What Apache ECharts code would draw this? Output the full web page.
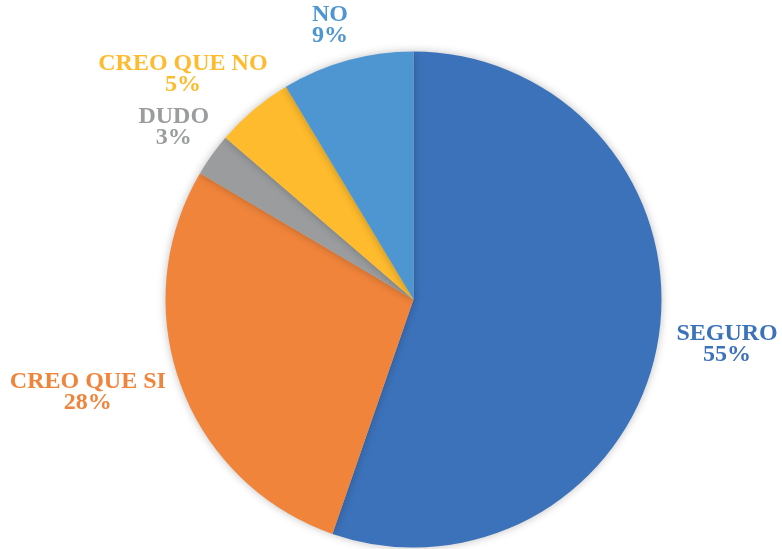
<!DOCTYPE html>
<html>
<head>
<meta charset="utf-8">
<script src="https://cdn.jsdelivr.net/npm/echarts@6/dist/echarts.min.js"></script>
<style>
html,body{margin:0;padding:0;background:#fff;}
#chart{width:782px;height:549px;}
</style>
</head>
<body>
<div id="chart"></div>
<script>
const categories = ['SEGURO', 'CREO QUE SI', 'DUDO', 'CREO QUE NO', 'NO'];
const values = [55.3, 28.2, 2.8, 5.1, 8.6];

const colors = ['#3C72BA', '#F0843B', '#9A9C9D', '#FDBB2D', '#4E96D1'];
// label distance beyond the rim and small nudges (styling only)
const labelLen = [70, 100, 47, 74, 39];
const labelNudge = [[0, -8], [1, -27], [0, 0], [-23, 21], [-7, 2]];

const chart = echarts.init(document.getElementById('chart'), null, {renderer: 'canvas'});
const option = {
  animation: false,
  backgroundColor: '#ffffff',
  series: [{
    type: 'pie',
    center: [413.5, 299.5],
    radius: [0, 248],
    startAngle: 90,
    clockwise: true,
    avoidLabelOverlap: false,
    data: categories.map((c, i) => ({
      name: c,
      value: values[i],
      itemStyle: {color: colors[i]},
      label: {color: colors[i]},
      labelLine: {length: labelLen[i]}
    })),
    itemStyle: {
      shadowBlur: 8,
      shadowColor: 'rgba(0,0,0,0.25)'
    },
    label: {
      show: true,
      position: 'outside',
      distanceToLabelLine: 0,
      fontFamily: 'Liberation Serif',
      fontWeight: 'bold',
      fontSize: 24,
      lineHeight: 21,
      formatter: p => '{n|' + p.name + '}\n{n|' + Math.round(p.percent) + '%}',
      rich: {
        n: {align: 'center', fontFamily: 'Liberation Serif', fontWeight: 'bold', fontSize: 24, lineHeight: 21}
      }
    },
    labelLine: {show: false, length2: 0},
    labelLayout: function (params) {
      const n = labelNudge[params.dataIndex];
      return {align: 'center', verticalAlign: 'middle', dx: n[0], dy: n[1]};
    },
    emphasis: {disabled: true}
  }]
};
chart.setOption(option);
</script>
</body>
</html>
